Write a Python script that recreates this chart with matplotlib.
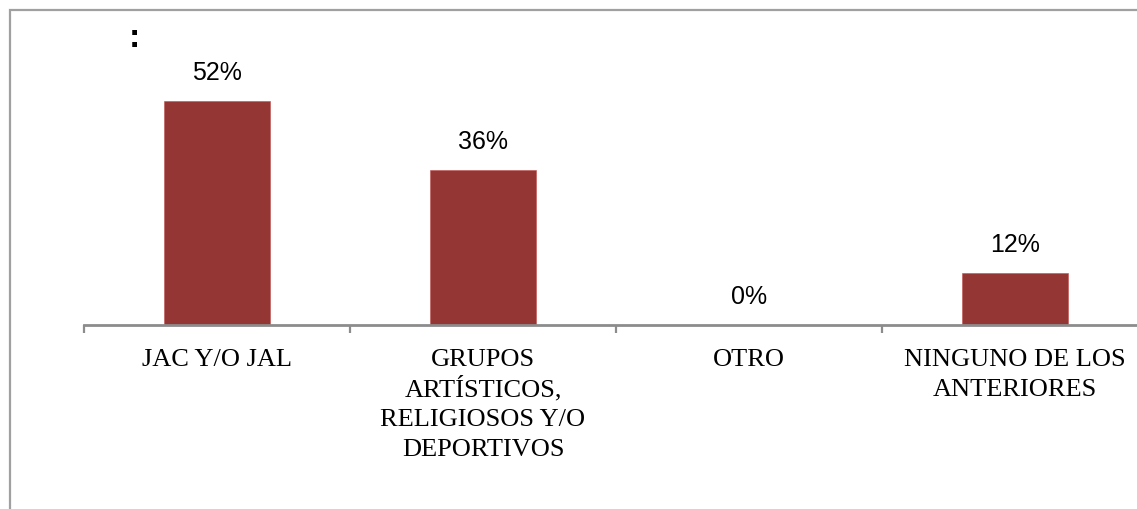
import matplotlib
matplotlib.use("Agg")
import matplotlib.pyplot as plt
from matplotlib.patches import Rectangle

categories = ["JAC Y/O JAL", "GRUPOS\nARTÍSTICOS,\nRELIGIOSOS Y/O\nDEPORTIVOS", "OTRO",
              "NINGUNO DE LOS\nANTERIORES"]
values = [52, 36, 0, 12]
labels = ["52%", "36%", "0%", "12%"]

W, H = 1137, 510
fig = plt.figure(figsize=(W / 100, H / 100), dpi=100)
fig.patch.set_facecolor("white")

# outer border (left and top visible)
fig.add_artist(Rectangle((10 / W, -0.1), 1.2, (510 - 11) / H + 0.1, transform=fig.transFigure,
                         fill=False, edgecolor="#a0a0a0", linewidth=1.6))

# axes geometry in pixels
x0, base, cat_w = 84, 325.5, 266
ymax = 60
px_per = 4.3
ax = fig.add_axes([x0 / W, (H - base) / H, 4 * cat_w / W, ymax * px_per / H])
ax.set_xlim(-0.5, 3.5)
ax.set_ylim(0, ymax)
ax.patch.set_alpha(0)
ax.set_clip_on(False)

color = "#943634"
ax.bar(range(len(values)), values, width=0.4, color=color, edgecolor="#c0504d", linewidth=0.4)

for i, (v, lab) in enumerate(zip(values, labels)):
    ax.annotate(lab, (i, v), xytext=(0, 15.5), textcoords="offset points",
                ha="center", va="baseline", fontsize=18, family="Liberation Sans",
                color="black")

for s in ["top", "right", "left"]:
    ax.spines[s].set_visible(False)
ax.spines["bottom"].set_color("#8c8c8c")
ax.spines["bottom"].set_linewidth(2)
ax.set_yticks([])
ax.set_xticks(range(len(categories)))
ax.set_xticklabels([""] * len(categories))
ax.tick_params(axis="x", which="major", length=0)
ax.set_xticks([-0.5, 0.5, 1.5, 2.5, 3.5], minor=True)
ax.tick_params(axis="x", which="minor", length=6, width=1.6, color="#8c8c8c", direction="out")

# category labels, one line at a time with even spacing (px -> pt: *0.72)
first_px, step_px = 40.5, 30
for i, cat in enumerate(categories):
    for k, line in enumerate(cat.split("\n")):
        ax.annotate(line, (i, 0), xytext=(0, -(first_px + k * step_px) * 0.72),
                    textcoords="offset points", ha="center", va="baseline",
                    fontsize=19, family="Liberation Serif", color="black",
                    annotation_clip=False)

fig.text(134 / W, (H - 39) / H, ":", fontsize=24, fontweight="bold", family="Liberation Sans",
         ha="center", va="center")

fig.savefig("out.png", dpi=100)
